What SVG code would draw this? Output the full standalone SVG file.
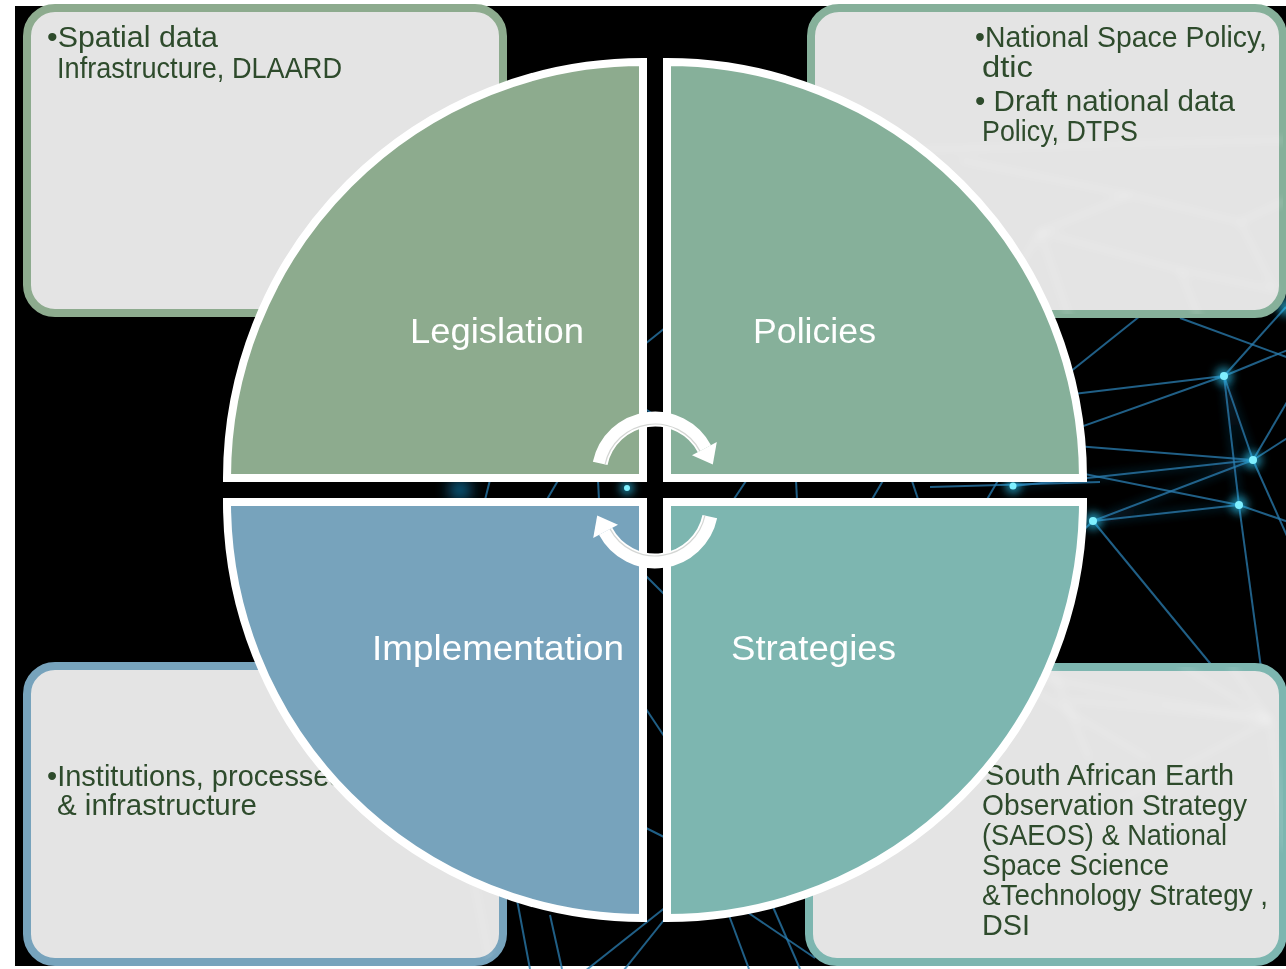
<svg xmlns="http://www.w3.org/2000/svg" xmlns:xlink="http://www.w3.org/1999/xlink" width="1286" height="969" viewBox="0 0 1286 969">
  <style>
    .net line { stroke: #2b7fb3; stroke-width: 2; stroke-opacity: 0.75; }
    .netglow line { stroke: #1d6a9a; stroke-width: 6; stroke-opacity: 0.25; }
    .faint line { stroke: #ffffff; stroke-width: 2.5; stroke-opacity: 0.45; }
    .nd { fill: #7ff0ff; }
    .ndglow { fill: #2fd0ff; opacity: 0.6; }
    .box { fill: #e4e4e4; stroke-width: 8; }
    .btxt { font-family: "Liberation Sans", Arial, sans-serif; font-size: 29px; fill: #2e4b2c; white-space: pre; }
    .quad { stroke: #ffffff; stroke-width: 8; stroke-linejoin: miter; }
    .qlabel { font-family: "Liberation Sans", Arial, sans-serif; font-size: 35px; fill: #ffffff; }
    .arc { fill: none; stroke: #ffffff; stroke-width: 15; }
    .arcline { fill: none; stroke: #d4d6d4; stroke-width: 1.2; }
  </style>
  <defs>
    <filter id="blur" x="-100%" y="-100%" width="300%" height="300%">
      <feGaussianBlur stdDeviation="4"/>
    </filter>
    <filter id="blurSoft" x="-100%" y="-100%" width="300%" height="300%">
      <feGaussianBlur stdDeviation="8"/>
    </filter>
    <clipPath id="boxClip">
      <rect x="811" y="8" width="472" height="306" rx="28"/>
      <rect x="809" y="667" width="474" height="295" rx="28"/>
      <rect x="27" y="666" width="476" height="296" rx="28"/>
    </clipPath>
    <g id="cycleArrow">
      <path class="arc" d="M600.2,463.4 A56,56 0 0 1 704.4,448.7"/>
      <path class="arcline" d="M605.1,464.4 A51,51 0 0 1 700,451.1"/>
      <polygon points="716.8,442.1 692,455.3 712.8,464.6" fill="#ffffff"/>
    </g>
  </defs>

  <!-- background -->
  <rect x="0" y="0" width="1286" height="969" fill="#ffffff"/>
  <rect x="15" y="6" width="1271" height="960" fill="#000000"/>

  <!-- network background -->
  <g id="network">
    <g class="netglow" filter="url(#blur)">
      <line x1="1224" y1="376" x2="1253" y2="460"/>
      <line x1="1224" y1="376" x2="1239" y2="505"/>
      <line x1="1093" y1="521" x2="1253" y2="460"/>
      <line x1="1093" y1="521" x2="1239" y2="505"/>
      <line x1="1013" y1="486" x2="1253" y2="460"/>
    </g>
    <g class="net">
      <line x1="1224" y1="376" x2="1253" y2="460"/>
      <line x1="1224" y1="376" x2="1239" y2="505"/>
      <line x1="1224" y1="376" x2="1300" y2="345"/>
      <line x1="1224" y1="376" x2="1040" y2="398"/>
      <line x1="1224" y1="376" x2="960" y2="470"/>
      <line x1="1253" y1="460" x2="1000" y2="440"/>
      <line x1="1239" y1="505" x2="990" y2="455"/>
      <line x1="1093" y1="521" x2="1253" y2="460"/>
      <line x1="1093" y1="521" x2="1239" y2="505"/>
      <line x1="1093" y1="521" x2="1232" y2="690"/>
      <line x1="1239" y1="505" x2="1264" y2="690"/>
      <line x1="1253" y1="460" x2="1300" y2="430"/>
      <line x1="1253" y1="460" x2="1300" y2="565"/>
      <line x1="1239" y1="505" x2="1300" y2="526"/>
      <line x1="1253" y1="460" x2="1300" y2="380"/>
      <line x1="1013" y1="486" x2="1253" y2="460"/>
      <line x1="930" y1="487" x2="1100" y2="482"/>
      <line x1="1050" y1="388" x2="1160" y2="300"/>
      <line x1="1180" y1="318" x2="1300" y2="362"/>
      <line x1="1093" y1="521" x2="1010" y2="600"/>
      <line x1="1286" y1="307" x2="1224" y2="376"/>
      <line x1="720" y1="520" x2="760" y2="460"/>
      <line x1="795" y1="460" x2="798" y2="520"/>
      <line x1="860" y1="520" x2="895" y2="460"/>
      <line x1="905" y1="460" x2="925" y2="520"/>
      <line x1="975" y1="520" x2="1010" y2="460"/>
      <line x1="480" y1="520" x2="495" y2="460"/>
      <line x1="535" y1="520" x2="570" y2="460"/>
      <line x1="597" y1="460" x2="600" y2="520"/>
      <line x1="600" y1="380" x2="700" y2="300"/>
      <line x1="630" y1="560" x2="690" y2="620"/>
      <line x1="640" y1="700" x2="680" y2="760"/>
      <line x1="630" y1="820" x2="690" y2="850"/>
      <line x1="630" y1="400" x2="680" y2="430"/>
      <line x1="700" y1="880" x2="580" y2="975"/>
      <line x1="680" y1="900" x2="620" y2="975"/>
      <line x1="517" y1="900" x2="530" y2="969"/>
      <line x1="550" y1="915" x2="562" y2="969"/>
      <line x1="727" y1="910" x2="749" y2="969"/>
      <line x1="747" y1="912" x2="815" y2="958"/>
      <line x1="770" y1="900" x2="800" y2="969"/>
    </g>
    <g filter="url(#blur)">
      <circle class="ndglow" cx="1224" cy="376" r="9"/>
      <circle class="ndglow" cx="1253" cy="460" r="9"/>
      <circle class="ndglow" cx="1239" cy="505" r="9"/>
      <circle class="ndglow" cx="1093" cy="521" r="9"/>
      <circle class="ndglow" cx="1013" cy="486" r="8"/>
      <circle class="ndglow" cx="627" cy="488" r="7"/>
      <circle class="ndglow" cx="1286" cy="307" r="9"/>
    </g>
    <circle fill="#1a9ad8" cx="460" cy="490" r="10" opacity="0.8" filter="url(#blurSoft)"/>
    <circle class="nd" cx="1224" cy="376" r="4"/>
    <circle class="nd" cx="1253" cy="460" r="4"/>
    <circle class="nd" cx="1239" cy="505" r="4"/>
    <circle class="nd" cx="1093" cy="521" r="4"/>
    <circle class="nd" cx="1013" cy="486" r="3.5"/>
    <circle class="nd" cx="627" cy="488" r="3"/>
  </g>

  <!-- corner boxes -->
  <g id="box-legislation">
    <rect class="box" x="27" y="8" width="476" height="305" rx="28" stroke="#8dab8e"/>
  </g>
  <g id="box-policies">
    <rect class="box" x="811" y="8" width="472" height="306" rx="28" stroke="#86b09a"/>
  </g>
  <g id="box-implementation">
    <rect class="box" x="27" y="666" width="476" height="296" rx="28" stroke="#77a3bc"/>
  </g>
  <g id="box-strategies">
    <rect class="box" x="809" y="667" width="474" height="295" rx="28" stroke="#7db6b0"/>
  </g>

  <!-- faint network seen through the boxes -->
  <g class="faint" clip-path="url(#boxClip)" filter="url(#blur)" opacity="0.9">
    <line x1="900" y1="150" x2="1286" y2="140"/>
    <line x1="960" y1="160" x2="1130" y2="195"/>
    <line x1="1040" y1="232" x2="1130" y2="195"/>
    <line x1="1130" y1="195" x2="1240" y2="222"/>
    <line x1="1040" y1="232" x2="1180" y2="270"/>
    <line x1="1180" y1="270" x2="1275" y2="290"/>
    <line x1="1240" y1="222" x2="1275" y2="290"/>
    <line x1="1180" y1="270" x2="1200" y2="320"/>
    <line x1="1000" y1="300" x2="1040" y2="232"/>
    <line x1="1040" y1="232" x2="1070" y2="320"/>
    <line x1="1240" y1="222" x2="1286" y2="200"/>
    <line x1="1270" y1="720" x2="1000" y2="670"/>
    <line x1="1270" y1="720" x2="1070" y2="700"/>
    <line x1="1270" y1="720" x2="1120" y2="800"/>
    <line x1="1270" y1="720" x2="1180" y2="665"/>
    <line x1="1270" y1="720" x2="1286" y2="850"/>
    <line x1="1270" y1="720" x2="1230" y2="665"/>
    <line x1="1000" y1="670" x2="1150" y2="760"/>
    <line x1="1050" y1="665" x2="1090" y2="760"/>
    <line x1="470" y1="860" x2="490" y2="962"/>
  </g>

  <!-- box texts -->
  <g id="text-legislation" class="btxt">
    <text x="47" y="47" textLength="171" lengthAdjust="spacingAndGlyphs">•Spatial data</text>
    <text x="57" y="78" textLength="285" lengthAdjust="spacingAndGlyphs">Infrastructure, DLAARD</text>
  </g>
  <g id="text-policies" class="btxt">
    <text x="975" y="47" textLength="292" lengthAdjust="spacingAndGlyphs">•National Space Policy,</text>
    <text x="982" y="77" textLength="51" lengthAdjust="spacingAndGlyphs">dtic</text>
    <text x="975" y="111" textLength="260" lengthAdjust="spacingAndGlyphs">•  Draft national data</text>
    <text x="982" y="141" textLength="156" lengthAdjust="spacingAndGlyphs">Policy, DTPS</text>
  </g>
  <g id="text-implementation" class="btxt">
    <text x="47" y="786" textLength="297" lengthAdjust="spacingAndGlyphs">•Institutions, processes</text>
    <text x="57" y="815" textLength="200" lengthAdjust="spacingAndGlyphs">&amp; infrastructure</text>
  </g>
  <g id="text-strategies" class="btxt">
    <text x="975" y="785" textLength="259" lengthAdjust="spacingAndGlyphs">•South African Earth</text>
    <text x="982" y="815" textLength="265" lengthAdjust="spacingAndGlyphs">Observation Strategy</text>
    <text x="982" y="845" textLength="245" lengthAdjust="spacingAndGlyphs">(SAEOS) &amp; National</text>
    <text x="982" y="875" textLength="187" lengthAdjust="spacingAndGlyphs">Space Science</text>
    <text x="982" y="905" textLength="286" lengthAdjust="spacingAndGlyphs">&amp;Technology Strategy ,</text>
    <text x="982" y="935" textLength="48" lengthAdjust="spacingAndGlyphs">DSI</text>
  </g>

  <!-- quadrants -->
  <g id="node-legislation">
    <path class="quad" fill="#8dab8e" d="M643,478 L643,62 A416,416 0 0 0 227,478 Z"/>
    <text class="qlabel" x="410" y="343" textLength="174" lengthAdjust="spacingAndGlyphs">Legislation</text>
  </g>
  <g id="node-policies">
    <path class="quad" fill="#86b09a" d="M667,478 L1083,478 A416,416 0 0 0 667,62 Z"/>
    <text class="qlabel" x="753" y="343" textLength="123" lengthAdjust="spacingAndGlyphs">Policies</text>
  </g>
  <g id="node-strategies">
    <path class="quad" fill="#7db6b0" d="M667,502 L667,918 A416,416 0 0 0 1083,502 Z"/>
    <text class="qlabel" x="731" y="660" textLength="165" lengthAdjust="spacingAndGlyphs">Strategies</text>
  </g>
  <g id="node-implementation">
    <path class="quad" fill="#77a3bc" d="M643,502 L227,502 A416,416 0 0 0 643,918 Z"/>
    <text class="qlabel" x="372" y="660" textLength="252" lengthAdjust="spacingAndGlyphs">Implementation</text>
  </g>

  <!-- cycle connectors -->
  <g id="connectors">
    <use xlink:href="#cycleArrow" href="#cycleArrow"/>
    <use xlink:href="#cycleArrow" href="#cycleArrow" transform="rotate(180 655 490)"/>
  </g>
</svg>
